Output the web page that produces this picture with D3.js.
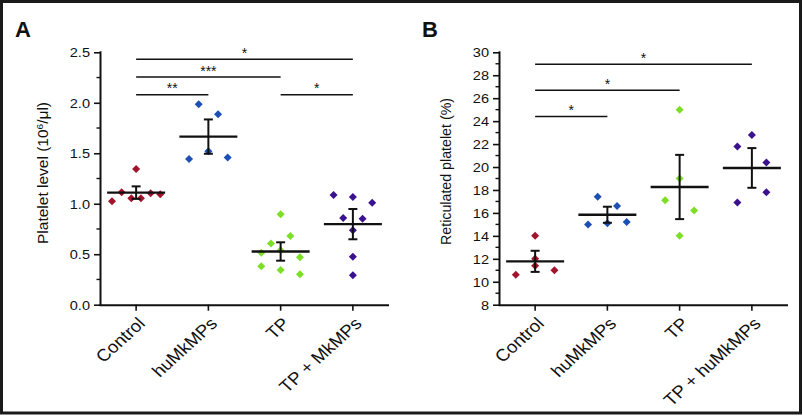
<!DOCTYPE html>
<html>
<head>
<meta charset="utf-8">
<script src="https://cdn.jsdelivr.net/npm/d3@7"></script>
<style>
  html, body { margin: 0; padding: 0; background: #fff; }
  svg { display: block; }
  text { font-family: "Liberation Sans", Arial, Helvetica, sans-serif; fill: #111; }
</style>
</head>
<body>
<svg id="chart" width="803" height="416"></svg>
<script>
// ---------- DATA ----------
const categoriesA = ["Control", "huMkMPs", "TP", "TP + MkMPs"];
const categoriesB = ["Control", "huMkMPs", "TP", "TP + huMkMPs"];
const groupColors = ["#a3142c", "#1d4fb5", "#7ddf25", "#3a1290"];

// Panel A: platelet level (10^6/µl)
const plateletValues = [
  [1.025, 1.114, 1.055, 1.345, 1.055, 1.104, 1.094],
  [1.444, 1.986, 1.52, 1.887, 1.457],
  [0.515, 0.38, 0.605, 0.896, 0.539, 0.344, 0.681, 0.47, 0.301],
  [1.087, 0.859, 1.067, 0.737, 0.476, 0.291, 0.852, 1.011]
];
// horizontal jitter rank of each point (scatter column order)
const plateletJitter = [
  [-5, -3, -1, 0, 1, 3, 5],
  [-4, -2, 0, 2, 4],
  [-4, -4, -2, 0, 0, 0, 2, 4, 4],
  [-4, -2, 0, 0, 0, 0, 2, 4]
];
const plateletMean = [1.11, 1.665, 0.527, 0.798];
const plateletErr = [0.062, 0.17, 0.091, 0.15];
const plateletTicks = [0, 0.5, 1.0, 1.5, 2.0, 2.5];
const plateletMinorTicks = [0.25, 0.75, 1.25, 1.75, 2.25];
const plateletSig = [
  { from: 0, to: 3, value: 2.43, label: "*" },
  { from: 0, to: 2, value: 2.255, label: "***" },
  { from: 0, to: 1, value: 2.08, label: "**" },
  { from: 2, to: 3, value: 2.08, label: "*" }
];

// Panel B: reticulated platelet (%)
const reticValues = [
  [10.6, 14.0, 12.0, 11.4, 11.0],
  [15.0, 17.4, 15.1, 16.6, 15.2],
  [17.1, 25.0, 19.0, 14.0, 16.2],
  [21.8, 16.9, 22.8, 20.4, 17.8]
];
const reticJitter = [
  [-4, 0, 0, 0, 4],
  [-4, -2, 0, 2, 4],
  [-3, 0, 0, 0, 3],
  [-3, -3, 0, 3, 3]
];
const reticMean = [11.78, 15.84, 18.26, 19.92];
const reticErr = [0.92, 0.7, 2.8, 1.73];
const reticTicks = [8, 10, 12, 14, 16, 18, 20, 22, 24, 26, 28, 30];
const reticMinorTicks = [9, 11, 13, 15, 17, 19, 21, 23, 25, 27, 29];
const reticSig = [
  { from: 0, to: 3, value: 28.96, label: "*" },
  { from: 0, to: 2, value: 26.7, label: "*" },
  { from: 0, to: 1, value: 24.4, label: "*" }
];

// ---------- DRAW ----------
const svg = d3.select("#chart");

// outer frame
svg.append("rect")
  .attr("x", 1.5).attr("y", 1.5)
  .attr("width", 799).attr("height", 411.5)
  .attr("fill", "none").attr("stroke", "#1a1a1a").attr("stroke-width", 3);

function drawPanel(cfg) {
  const g = svg.append("g");
  const x = d3.scaleBand().domain(d3.range(cfg.categories.length)).range([cfg.left, cfg.right]);
  const y = d3.scaleLinear().domain(cfg.domain).range([cfg.bottom, cfg.top]);
  const cx = i => x(i) + x.bandwidth() / 2;
  const jitterUnit = 4.83;

  // y axis
  const yAxis = g.append("g")
    .attr("transform", `translate(${cfg.left},0)`)
    .call(d3.axisLeft(y).tickValues(cfg.ticks).tickSize(6).tickPadding(7)
      .tickFormat(cfg.tickFormat));
  yAxis.select(".domain").attr("stroke", "#111").attr("stroke-width", 2)
    .attr("d", `M0.5,${cfg.bottom + 1}V${cfg.top - 1}`);
  yAxis.selectAll(".tick line").attr("stroke", "#111").attr("stroke-width", 1.6);
  yAxis.selectAll(".tick text")
    .attr("x", null).attr("dy", "0.36em")
    .attr("transform", "translate(-10,0) scale(1.12,1)")
    .style("font-size", "13px").attr("fill", "#111");
  // minor ticks
  g.append("g").selectAll("line").data(cfg.minorTicks).join("line")
    .attr("x1", cfg.left - 3.5).attr("x2", cfg.left)
    .attr("y1", d => y(d)).attr("y2", d => y(d))
    .attr("stroke", "#111").attr("stroke-width", 1.4);

  // x axis
  const xAxis = g.append("g")
    .attr("transform", `translate(0,${cfg.bottom})`)
    .call(d3.axisBottom(x).tickSize(6).tickSizeOuter(0).tickFormat(i => cfg.categories[i]));
  xAxis.select(".domain").attr("stroke", "#111").attr("stroke-width", 2)
    .attr("d", `M${cfg.left - 0.5},0.5H${cfg.right}`);
  xAxis.selectAll(".tick line").attr("stroke", "#111").attr("stroke-width", 1.6);
  xAxis.selectAll(".tick text")
    .attr("y", null).attr("dy", null)
    .attr("text-anchor", "end")
    .attr("transform", "translate(10,20) scale(1.1,1) rotate(-45)")
    .style("font-size", "17px").attr("fill", "#111");

  // y axis title
  const title = g.append("text")
    .attr("text-anchor", "middle")
    .attr("transform", `translate(${cfg.titleX},${cfg.titleY}) rotate(-90) scale(1,0.88)`)
    .attr("textLength", cfg.titleLength)
    .attr("lengthAdjust", "spacingAndGlyphs")
    .style("font-size", "17px");
  cfg.title.forEach(part => {
    const t = title.append("tspan").text(part.text);
    if (part.sup) t.attr("dy", -6).style("font-size", "11px");
    if (part.after) t.attr("dy", 6);
  });

  // panel letter
  g.append("text").attr("x", cfg.letterX).attr("y", 37)
    .style("font-size", "22px").style("font-weight", "bold").text(cfg.letter);

  // significance bars
  const sig = g.append("g");
  sig.selectAll("line").data(cfg.sig).join("line")
    .attr("x1", d => cx(d.from)).attr("x2", d => cx(d.to))
    .attr("y1", d => y(d.value)).attr("y2", d => y(d.value))
    .attr("stroke", "#111").attr("stroke-width", 1.5);
  sig.selectAll("text").data(cfg.sig).join("text")
    .attr("x", d => (cx(d.from) + cx(d.to)) / 2)
    .attr("y", d => y(d.value) - 1.5)
    .attr("text-anchor", "middle")
    .style("font-size", "14px")
    .text(d => d.label);

  // points
  const diamond = d3.symbol().type(d3.symbolSquare).size(32);
  cfg.values.forEach((vals, i) => {
    g.append("g").selectAll("path").data(vals).join("path")
      .attr("d", diamond)
      .attr("transform", (d, j) => `translate(${cx(i) + cfg.jitter[i][j] * jitterUnit},${y(d)}) rotate(45)`)
      .attr("fill", groupColors[i]);
  });

  // mean and error bars
  const stats = g.append("g").attr("stroke", "#111");
  cfg.means.forEach((m, i) => {
    const c = cx(i);
    stats.append("line").attr("x1", c - 29).attr("x2", c + 29)
      .attr("y1", y(m)).attr("y2", y(m)).attr("stroke-width", 2.4);
    stats.append("line").attr("x1", c).attr("x2", c)
      .attr("y1", y(m + cfg.errs[i])).attr("y2", y(m - cfg.errs[i])).attr("stroke-width", 2);
    [m + cfg.errs[i], m - cfg.errs[i]].forEach(v => {
      stats.append("line").attr("x1", c - 4.5).attr("x2", c + 4.5)
        .attr("y1", y(v)).attr("y2", y(v)).attr("stroke-width", 2);
    });
  });
}

drawPanel({
  letter: "A", letterX: 15,
  categories: categoriesA,
  left: 100, right: 389, top: 52.3, bottom: 304.7,
  domain: [0, 2.5],
  ticks: plateletTicks, minorTicks: plateletMinorTicks,
  tickFormat: d3.format(".1f"),
  values: plateletValues, jitter: plateletJitter,
  means: plateletMean, errs: plateletErr,
  sig: plateletSig,
  title: [{ text: "Platelet level (10" }, { text: "6", sup: true }, { text: "/μl)", after: true }],
  titleX: 48, titleY: 173, titleLength: 142
});

drawPanel({
  letter: "B", letterX: 422,
  categories: categoriesB,
  left: 499, right: 788, top: 52.3, bottom: 304.7,
  domain: [8, 30],
  ticks: reticTicks, minorTicks: reticMinorTicks,
  tickFormat: d3.format("d"),
  values: reticValues, jitter: reticJitter,
  means: reticMean, errs: reticErr,
  sig: reticSig,
  title: [{ text: "Reticulated platelet (%)" }],
  titleX: 451, titleY: 171.5, titleLength: 147
});
</script>
</body>
</html>
